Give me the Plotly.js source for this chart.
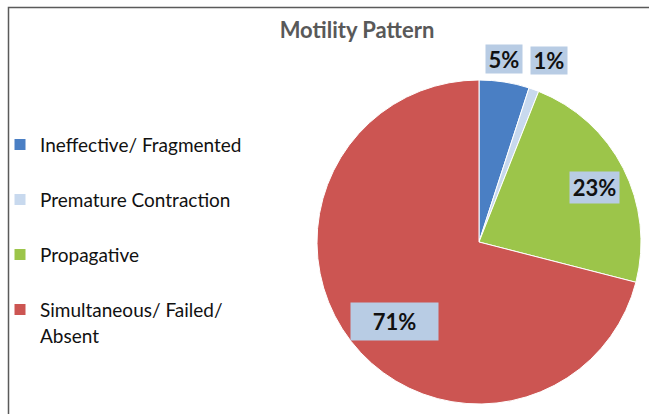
<!DOCTYPE html>
<html>
<head>
<meta charset="utf-8">
<script src="https://cdn.plot.ly/plotly-3.0.1.min.js"></script>
<style>html,body{margin:0;padding:0;background:#fff;}#chart{width:649px;height:414px;}</style>
</head>
<body>
<div id="chart"></div>
<script>
const categories = ["Ineffective/ Fragmented", "Premature Contraction", "Propagative", "Simultaneous/ Failed/<br>Absent"];
const values = [5, 1, 23, 71];
const sliceColors = ["#4A7FC4", "#C8D9EE", "#9CC54A", "#CC5552"];

// legend labels: pad single-line entries with a blank line to get Excel-like spacing
const legendLabels = categories.map(c => {
  const txt = c.indexOf("<br>") >= 0 ? c : c + "<br> ";
  return '<span style="font-size:19px">' + txt.replace("<br>", '</span><br><span style="font-size:19px">') + '</span>';
});

const total = values.reduce((a, b) => a + b, 0);
const pctText = values.map(v => Math.round(v / total * 100) + "%");

// label box placement (pixel centres and box sizes)
const W = 649, H = 414;
const labelPos = [[504, 59], [549, 61], [594, 187], [394, 321]];
const labelBox = [[36, 28], [36, 27], [49, 31], [87, 37]];

const annotations = pctText.map((t, i) => ({
  xref: "paper", yref: "paper",
  x: labelPos[i][0] / W, y: 1 - labelPos[i][1] / H,
  xanchor: "center", yanchor: "middle",
  text: "<b>" + t + "</b>",
  showarrow: false,
  bgcolor: "#B8CCE4",
  width: labelBox[i][0], height: labelBox[i][1],
  borderpad: 0,
  font: {family: "Lato, 'DejaVu Sans', sans-serif", size: 22, color: "#111"}
}));

const trace = {
  type: "pie",
  labels: legendLabels,
  values: values,
  sort: false,
  direction: "clockwise",
  rotation: 0,
  textinfo: "none",
  hoverinfo: "label+percent",
  marker: {colors: sliceColors, line: {color: "#ffffff", width: 1}},
  domain: {x: [317 / W, 641 / W], y: [1 - 405 / H, 1 - 79 / H]}
};

const layout = {
  width: W, height: H,
  margin: {l: 0, r: 0, t: 0, b: 0},
  paper_bgcolor: "#ffffff",
  title: {
    text: "<b>Motility Pattern</b>",
    x: 357 / W, xanchor: "center",
    y: 1 - 30 / H, yanchor: "middle",
    font: {family: "Lato, 'DejaVu Sans', sans-serif", size: 22, color: "#595959"}
  },
  showlegend: true,
  legend: {
    x: 0, xanchor: "left",
    y: 1 - 125 / H, yanchor: "top",
    valign: "top",
    itemwidth: 30,
    font: {family: "Lato, 'DejaVu Sans', sans-serif", size: 20, color: "#111"},
    bgcolor: "rgba(0,0,0,0)"
  },
  annotations: annotations,
  shapes: [{
    type: "rect", xref: "paper", yref: "paper",
    x0: 8.5 / W, x1: 1.02, y0: -0.02, y1: 1 - 7.5 / H,
    line: {color: "#5a5a5a", width: 1.5}
  }]
};

Plotly.newPlot("chart", [trace], layout, {displayModeBar: false, staticPlot: true});
</script>
</body>
</html>
